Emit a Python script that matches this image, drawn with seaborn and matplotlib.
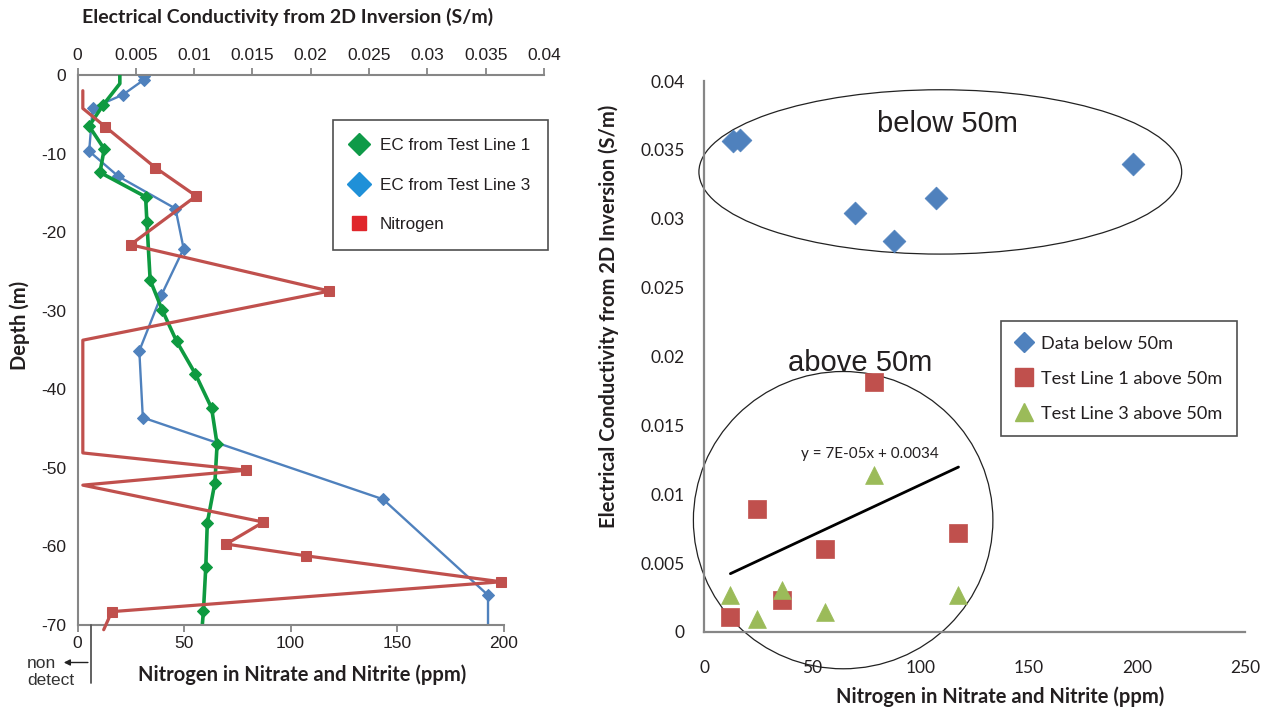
import numpy as np
import pandas as pd
import matplotlib
matplotlib.use("Agg")
import matplotlib.pyplot as plt
from matplotlib.patches import Ellipse, FancyArrowPatch
from matplotlib.lines import Line2D
from matplotlib.ticker import FuncFormatter
import seaborn as sns

# ---------------- data: left panel (depth profiles) ----------------
ec1_depth = [0.0, -1.1, -3.8, -6.5, -9.4, -12.4, -15.5, -18.7, -26.1, -29.9, -33.9,
             -38.0, -42.4, -47.0, -51.9, -57.0, -62.6, -68.2, -70.0]
ec1_value = [0.00363, 0.00363, 0.00221, 0.00099, 0.00229, 0.00193, 0.00584, 0.00595,
             0.00623, 0.00726, 0.00850, 0.01009, 0.01150, 0.01197, 0.01178, 0.01113,
             0.01100, 0.01080, 0.01070]
ec1_measured = [False, False] + [True] * 16 + [False]

ec3_depth = [-0.1, -0.6, -2.5, -4.2, -9.7, -12.9, -17.0, -22.1, -28.0, -35.1, -43.6,
             -54.0, -66.2, -70.0]
ec3_value = [0.0057, 0.0057, 0.0039, 0.0013, 0.0010, 0.0035, 0.0084, 0.0091, 0.0072,
             0.0053, 0.0056, 0.0262, 0.0352, 0.0352]
ec3_measured = [True] * 13 + [False]

n_depth = [-2.0, -4.25, -6.6, -11.8, -15.4, -21.6, -27.5, -33.75, -48.1, -50.3, -52.2,
           -56.9, -59.7, -61.2, -64.5, -68.3, -70.6]
n_ppm = [2.5, 2.5, 13.1, 36.6, 55.7, 24.9, 118.3, 2.5, 2.5, 79.2, 2.5, 87.3, 69.8,
         107.4, 198.9, 16.1, 12.3]
n_detected = [False, False, True, True, True, True, True, False, False, True, False,
              True, True, True, True, True, False]

# ---------------- data: right panel (scatter) ----------------
below_n = [13.6, 16.5, 70.0, 88.0, 107.4, 198.4]
below_ec = [0.03565, 0.0357, 0.0304, 0.0284, 0.0315, 0.0340]
tl1_n = [78.4, 24.3, 55.9, 117.6, 35.9, 12.2]
tl1_ec = [0.01818, 0.00895, 0.00606, 0.00722, 0.00235, 0.00109]
tl3_n = [78.4, 12.2, 35.9, 24.3, 55.7, 117.2]
tl3_ec = [0.0114, 0.00267, 0.00303, 0.00097, 0.00145, 0.00267]

left_depth_ticks = [0, -10, -20, -30, -40, -50, -60, -70]
left_ec_ticks = [0, 0.005, 0.01, 0.015, 0.02, 0.025, 0.03, 0.035, 0.04]
left_n_ticks = [0, 50, 100, 150, 200]
right_x_ticks = [0, 50, 100, 150, 200, 250]
right_y_ticks = [0, 0.005, 0.01, 0.015, 0.02, 0.025, 0.03, 0.035, 0.04]

# ---------------- styling ----------------
sns.set_style("white")
plt.rcParams['font.family'] = ['Liberation Sans', 'DejaVu Sans']
plt.rcParams['axes.unicode_minus'] = False
GRAY = '#868686'
TXT = '#231f20'
GREEN = '#0e9a40'
BLUE = '#4f81bd'
RED = '#c0504d'
LGREEN = '#9bbb59'

W, H = 1270, 713
fig = plt.figure(figsize=(12.7, 7.13), dpi=100)
fig.patch.set_facecolor('white')


def rect(x0, y0, x1, y1):
    return [x0 / W, 1 - y1 / H, (x1 - x0) / W, (y1 - y0) / H]


def fx(x):
    return x / W


def fy(y):
    return 1 - y / H


def idx(flags):
    return [i for i, f in enumerate(flags) if f]


# ---------------- left panel ----------------
axE = fig.add_axes(rect(77.5, 75, 544, 625))
axE.set_xlim(0, 0.04)
axE.set_ylim(-70, 0)
axN = axE.twiny()
axN.set_xlim(0, 219)
axN.set_ylim(-70, 0)

sns.lineplot(x=ec3_value, y=ec3_depth, ax=axE, sort=False, estimator=None,
             color=BLUE, lw=1.7, marker='D', markersize=6, mec=BLUE,
             markevery=idx(ec3_measured), zorder=2)
sns.lineplot(x=ec1_value, y=ec1_depth, ax=axE, sort=False, estimator=None,
             color=GREEN, lw=2.6, marker='D', markersize=6, mec=GREEN,
             markevery=idx(ec1_measured), zorder=3)
sns.lineplot(x=n_ppm, y=n_depth, ax=axN, sort=False, estimator=None,
             color=RED, lw=2.3, marker='s', markersize=7, mec=RED,
             markevery=idx(n_detected), zorder=4, clip_on=False)

axE.xaxis.set_ticks_position('top')
axE.set_xticks(left_ec_ticks)
axE.xaxis.set_major_formatter(FuncFormatter(lambda v, p: '{:g}'.format(round(v, 4))))
axE.set_yticks(left_depth_ticks)
axN.set_xticks(left_n_ticks)
axN.xaxis.set_ticks_position('bottom')
for a in (axE, axN):
    a.set_xlabel('')
    a.set_ylabel('')
    a.grid(False)
for s in ['bottom', 'right']:
    axE.spines[s].set_visible(False)
for s in ['top', 'left', 'right']:
    axN.spines[s].set_visible(False)
axN.spines['bottom'].set_bounds(0, 200)
for a, sp in ((axE, ['top', 'left']), (axN, ['bottom'])):
    for s in sp:
        a.spines[s].set_color(GRAY)
        a.spines[s].set_linewidth(1.5)
    a.tick_params(direction='out', length=5, width=1.3, color=GRAY,
                  labelsize=12.5, labelcolor=TXT, pad=3)
axE.tick_params(axis='x', pad=4)

leg_handles = [
    Line2D([], [], ls='none', marker='D', markersize=11, mfc='#0f9a48', mec='#0f9a48'),
    Line2D([], [], ls='none', marker='D', markersize=12, mfc='#1f90d8', mec='#1f90d8'),
    Line2D([], [], ls='none', marker='s', markersize=10, mfc='#e0262b', mec='#e0262b'),
]
leg = axN.legend(leg_handles, ['EC from Test Line 1', 'EC from Test Line 3', 'Nitrogen'],
                 loc='upper left', bbox_to_anchor=(fx(333), fy(120)),
                 bbox_transform=fig.transFigure, frameon=True, fancybox=False,
                 fontsize=12.3, labelspacing=1.45, handlelength=1.0,
                 handletextpad=0.7, borderpad=1.05, borderaxespad=0)
leg.get_frame().set_edgecolor('#222222')
leg.get_frame().set_linewidth(1.2)
for t in leg.get_texts():
    t.set_color(TXT)

LBL = dict(family=['Lato', 'DejaVu Sans'], weight='bold', fontsize=14.5, color=TXT)
LBL_TOP = dict(LBL, fontsize=14)
fig.text(fx(288), fy(17), 'Electrical Conductivity from 2D Inversion (S/m)',
         ha='center', va='center', **LBL_TOP)
fig.text(fx(302), fy(675), 'Nitrogen in Nitrate and Nitrite (ppm)',
         ha='center', va='center', **LBL)
fig.text(fx(20), fy(325), 'Depth (m)', rotation=90, ha='center', va='center', **LBL)

# non detect note
fig.add_artist(Line2D([fx(90.7), fx(90.7)], [fy(625), fy(683)], color='#555555', lw=1.3))
fig.add_artist(FancyArrowPatch((fx(90.7), fy(662.5)), (fx(61), fy(662.5)),
               transform=fig.transFigure, arrowstyle='-|>', mutation_scale=9,
               color='#222222', lw=1.0))
fig.text(fx(27), fy(672), 'non\ndetect', ha='left', va='center', fontsize=12.5,
         color='#333333', linespacing=1.12)

# ---------------- right panel ----------------
ax2 = fig.add_axes(rect(704, 81, 1245, 632))
ax2.set_xlim(0, 250)
ax2.set_ylim(0, 0.04)

sns.scatterplot(x=below_n, y=below_ec, ax=ax2, marker='D', s=135, color=BLUE,
                edgecolor=BLUE, linewidth=0.5, zorder=3)
sns.scatterplot(x=tl1_n, y=tl1_ec, ax=ax2, marker='s', s=150, color=RED,
                edgecolor=RED, linewidth=0.5, zorder=3)
sns.scatterplot(x=tl3_n, y=tl3_ec, ax=ax2, marker='^', s=165, color=LGREEN,
                edgecolor=LGREEN, linewidth=0.5, zorder=4)

slope, intercept = np.polyfit(tl1_n, tl1_ec, 1)
fit_x = np.array([min(tl1_n), max(tl1_n)])
sns.lineplot(x=fit_x, y=slope * fit_x + intercept, ax=ax2, color='black', lw=2.0,
             zorder=5)

ax2.add_patch(Ellipse((109.2, 0.0334), 223.1, 0.01193, fill=False, ec='#222222',
                      lw=0.9, clip_on=False, zorder=2))
ax2.add_patch(Ellipse((64.3, 0.00812), 138.4, 0.02158, fill=False, ec='#222222',
                      lw=0.9, clip_on=False, zorder=2))
ax2.text(112.5, 0.0369, 'below 50m', ha='center', va='center', fontsize=21, color=TXT)
ax2.text(72, 0.0195, 'above 50m', ha='center', va='center', fontsize=21, color=TXT)
ax2.text(76.5, 0.0129, 'y = 7E-05x + 0.0034', ha='center', va='center',
         fontsize=11, color=TXT, family=['Lato', 'DejaVu Sans'])

ax2.set_xticks(right_x_ticks)
ax2.set_yticks(right_y_ticks)
ax2.yaxis.set_major_formatter(FuncFormatter(lambda v, p: '{:g}'.format(round(v, 4))))
ax2.set_xlabel('')
ax2.set_ylabel('')
ax2.grid(False)
for s in ['top', 'right']:
    ax2.spines[s].set_visible(False)
for s in ['left', 'bottom']:
    ax2.spines[s].set_color(GRAY)
    ax2.spines[s].set_linewidth(1.6)
ax2.tick_params(direction='out', length=6, width=1.3, color=GRAY, labelsize=12.5,
                labelcolor=TXT)
ax2.tick_params(axis='x', pad=14)
ax2.tick_params(axis='y', pad=8)
for t in ax2.get_xticklabels() + ax2.get_yticklabels():
    t.set_family(['Lato', 'DejaVu Sans'])

leg2_handles = [
    Line2D([], [], ls='none', marker='D', markersize=10, mfc=BLUE, mec=BLUE),
    Line2D([], [], ls='none', marker='s', markersize=13, mfc=RED, mec=RED),
    Line2D([], [], ls='none', marker='^', markersize=13, mfc=LGREEN, mec=LGREEN),
]
leg2 = ax2.legend(leg2_handles, ['Data below 50m', 'Test Line 1 above 50m',
                                 'Test Line 3 above 50m'],
                  loc='upper left', bbox_to_anchor=(fx(1001), fy(321)),
                  bbox_transform=fig.transFigure, frameon=True, fancybox=False,
                  prop=dict(family=['Lato', 'DejaVu Sans'], size=13.1),
                  labelspacing=1.05, handlelength=0.9, handletextpad=0.5,
                  borderpad=0.8, borderaxespad=0)
leg2.get_frame().set_edgecolor('#222222')
leg2.get_frame().set_linewidth(1.2)
for t in leg2.get_texts():
    t.set_color(TXT)

fig.text(fx(1000), fy(697), 'Nitrogen in Nitrate and Nitrite (ppm)',
         ha='center', va='center', **LBL)
fig.text(fx(609), fy(316), 'Electrical Conductivity from 2D Inversion (S/m)',
         rotation=90, ha='center', va='center', **LBL)

fig.savefig('out.png', dpi=100, facecolor='white')
